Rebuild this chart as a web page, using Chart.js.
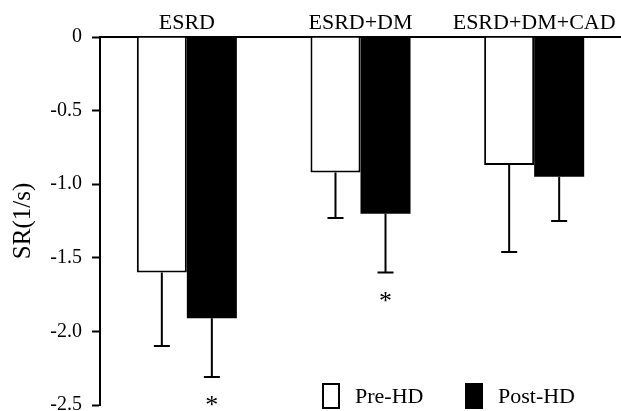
<!DOCTYPE html>
<html>
<head>
<meta charset="utf-8">
<script src="https://cdn.jsdelivr.net/npm/chart.js@4"></script>
<style>
  html, body { margin: 0; padding: 0; background: #fff; }
  #wrap { width: 621px; height: 411px; }
</style>
</head>
<body>
<div id="wrap"><canvas id="srChart"></canvas></div>
<script>
const groups = ["ESRD", "ESRD+DM", "ESRD+DM+CAD"];
const preMean = [-1.60, -0.92, -0.87];
const preSD = [0.50, 0.31, 0.59];
const postMean = [-1.91, -1.20, -0.95];
const postSD = [0.40, 0.40, 0.30];
const postSig = [true, true, false];
const seriesNames = ["Pre-HD", "Post-HD"];

const FONT = "'Liberation Serif', 'Times New Roman', serif";

// error bars (downward only) plus significance stars
const errorBars = {
  id: "errorBars",
  afterDatasetsDraw(chart) {
    const c = chart.ctx;
    const y = chart.scales.y;
    const sets = [[preMean, preSD, null], [postMean, postSD, postSig]];
    c.save();
    c.strokeStyle = "#000";
    c.lineWidth = 2;
    sets.forEach(([mean, sd, sig], di) => {
      chart.getDatasetMeta(di).data.forEach((bar, i) => {
        const yTop = y.getPixelForValue(mean[i]);
        const yEnd = y.getPixelForValue(mean[i] - sd[i]);
        c.beginPath();
        c.moveTo(bar.x, yTop);
        c.lineTo(bar.x, yEnd);
        c.moveTo(bar.x - 8, yEnd);
        c.lineTo(bar.x + 8, yEnd);
        c.stroke();
        if (sig && sig[i]) {
          c.fillStyle = "#000";
          c.font = "26px " + FONT;
          c.textAlign = "center";
          c.textBaseline = "alphabetic";
          c.fillText("*", bar.x, yEnd + 36);
        }
      });
    });
    c.restore();
  }
};

// legend drawn inside the plot, bottom right
const boxLegend = {
  id: "boxLegend",
  afterDraw(chart) {
    const c = chart.ctx;
    const a = chart.chartArea;
    const baseY = a.bottom - 2;
    const starts = [a.left + 222, a.left + 365];
    c.save();
    c.font = "22px " + FONT;
    c.textAlign = "left";
    c.textBaseline = "alphabetic";
    starts.forEach((x0, i) => {
      c.fillStyle = i === 0 ? "#fff" : "#000";
      c.fillRect(x0, baseY - 20, 18, 26);
      c.strokeStyle = "#000";
      c.lineWidth = 2;
      c.strokeRect(x0 + 1, baseY - 19, 16, 24);
      c.fillStyle = "#000";
      c.fillText(seriesNames[i], x0 + 33, baseY);
    });
    c.restore();
  }
};

new Chart(document.getElementById("srChart"), {
  type: "bar",
  data: {
    labels: groups,
    datasets: [
      {
        label: seriesNames[0],
        data: preMean,
        backgroundColor: "#fff",
        borderColor: "#000",
        borderWidth: 2,
        categoryPercentage: 0.576,
        barPercentage: 1.0
      },
      {
        label: seriesNames[1],
        data: postMean,
        backgroundColor: "#000",
        borderColor: "#000",
        borderWidth: 0,
        categoryPercentage: 0.576,
        barPercentage: 1.0
      }
    ]
  },
  options: {
    responsive: true,
    maintainAspectRatio: false,
    animation: false,
    layout: { padding: { top: 0, right: 0, bottom: 6, left: 0 } },
    plugins: {
      legend: { display: false },
      tooltip: { enabled: false }
    },
    scales: {
      x: {
        position: "top",
        grid: { display: false, drawTicks: false },
        border: { display: true, color: "#000", width: 2 },
        ticks: {
          color: "#000",
          font: { family: FONT, size: 22 },
          padding: 1,
          maxRotation: 0
        },
        afterFit(scale) { scale.height = 37; }
      },
      y: {
        min: -2.5,
        max: 0,
        grid: {
          drawOnChartArea: false,
          drawTicks: true,
          tickLength: 8,
          tickColor: "#000",
          tickWidth: 2
        },
        border: { display: true, color: "#000", width: 2 },
        ticks: {
          stepSize: 0.5,
          color: "#000",
          padding: 10,
          font: { family: FONT, size: 20 },
          callback: v => (v === 0 ? "0" : v.toFixed(1))
        },
        title: {
          display: true,
          text: "SR(1/s)",
          color: "#000",
          font: { family: FONT, size: 25 },
          padding: { top: 8, bottom: 4 }
        },
        afterFit(scale) {
          scale.width = 100;
          scale.paddingTop = 0;
          scale.paddingBottom = 0;
        }
      }
    }
  },
  plugins: [errorBars, boxLegend]
});
</script>
</body>
</html>
